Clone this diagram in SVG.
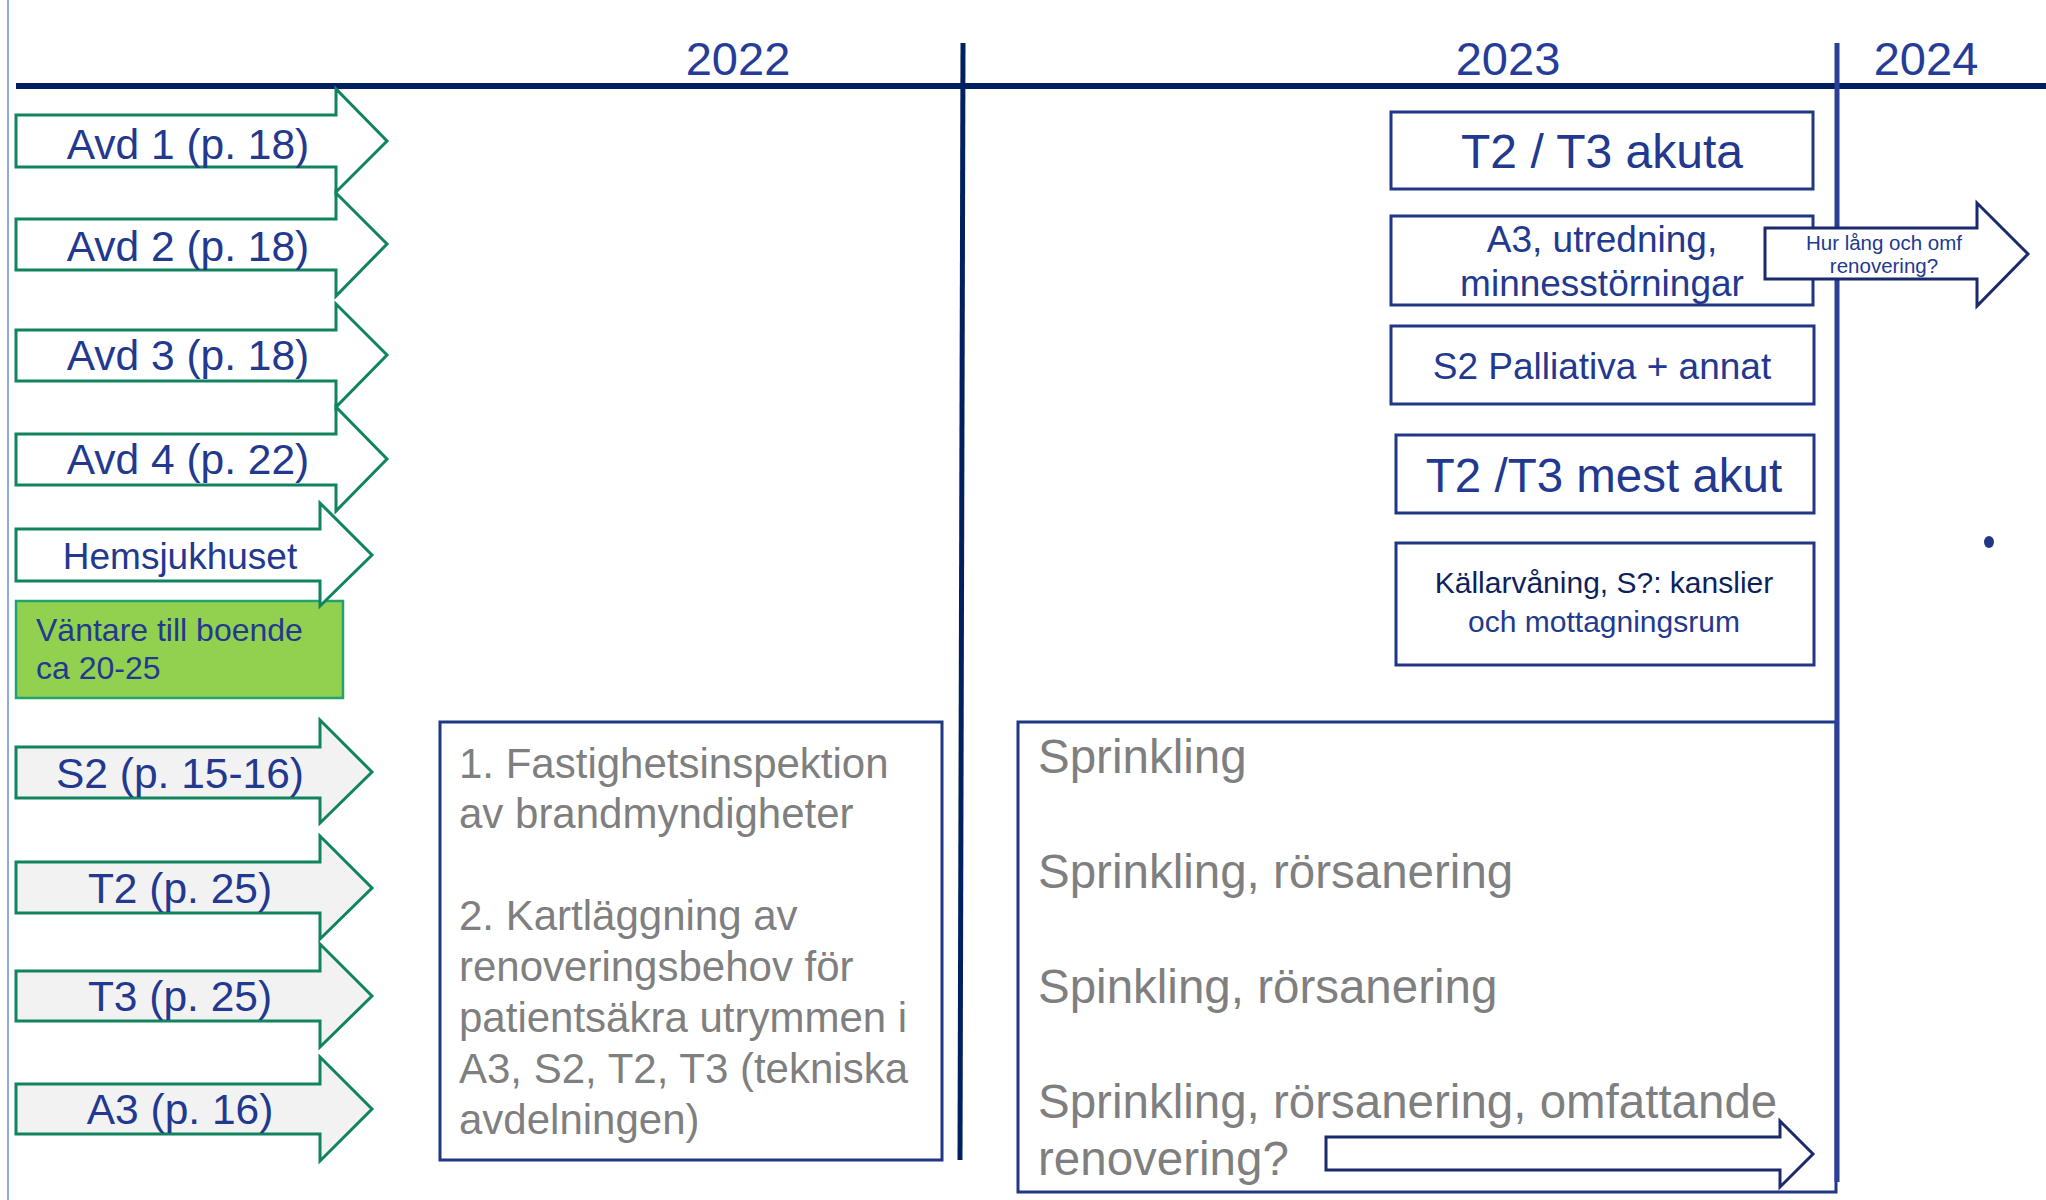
<svg xmlns="http://www.w3.org/2000/svg" width="2046" height="1200" viewBox="0 0 2046 1200">
<style>
text{font-family:"Liberation Sans",Arial,sans-serif}
.year{font-size:47px;fill:#253D98;text-anchor:middle}
.arr{fill:#FFFFFF;stroke:#10845F;stroke-width:3}
.arrg{fill:#F2F2F2;stroke:#10845F;stroke-width:3}
.lbl{font-size:42.5px;fill:#22398F;text-anchor:middle}
.box{fill:#FFFFFF;stroke:#1F3784;stroke-width:3}
.btxt{fill:#22398F;text-anchor:middle}
.gray{font-size:47.5px;fill:#7F7F7F}
.gray2{font-size:42px;fill:#7F7F7F}
.navyarr{fill:#FFFFFF;stroke:#1A2A6C;stroke-width:3}
</style>
<rect x="0" y="0" width="2046" height="1200" fill="#FFFFFF"/>
<g id="axes">
<line x1="8" y1="0" x2="8" y2="1200" stroke="#8EA9DB" stroke-width="2"/>
<line x1="16" y1="86" x2="2046" y2="86" stroke="#002060" stroke-width="6"/>
<line x1="963" y1="43" x2="960" y2="1160" stroke="#002060" stroke-width="5"/>
<text class="year" x="738" y="75">2022</text>
<text class="year" x="1508" y="75">2023</text>
<text class="year" x="1926" y="75">2024</text>
</g>
<g id="avd1"><polygon class="arr" points="16,115 336,115 336,89 387,141 336,192 336,167 16,167"/><text class="lbl" x="188" y="159">Avd 1 (p. 18)</text></g>
<g id="avd2"><polygon class="arr" points="16,219 336,219 336,193 387,244 336,296 336,270 16,270"/><text class="lbl" x="188" y="261">Avd 2 (p. 18)</text></g>
<g id="avd3"><polygon class="arr" points="16,330 336,330 336,304 387,355 336,407 336,381 16,381"/><text class="lbl" x="188" y="370">Avd 3 (p. 18)</text></g>
<g id="avd4"><polygon class="arr" points="16,434 336,434 336,407 387,459 336,511 336,485 16,485"/><text class="lbl" x="188" y="474">Avd 4 (p. 22)</text></g>
<g id="vantare"><rect x="16" y="601" width="327" height="97" fill="#92D050" stroke="#22A36D" stroke-width="2.5"/><text x="36" y="641" font-size="32" fill="#22398F">Väntare till boende</text><text x="36" y="679" font-size="32" fill="#22398F">ca 20-25</text></g>
<g id="hemsjukhuset"><polygon class="arr" points="16,529 320,529 320,503 372,555 320,606 320,581 16,581"/><text x="180" y="569" font-size="37" fill="#22398F" text-anchor="middle">Hemsjukhuset</text></g>
<g id="s2"><polygon class="arrg" points="16,747 320,747 320,720 372,772 320,823 320,798 16,798"/><text class="lbl" x="180" y="788">S2 (p. 15-16)</text></g>
<g id="t2"><polygon class="arrg" points="16,862 320,862 320,836 372,888 320,939 320,913 16,913"/><text class="lbl" x="180" y="903">T2 (p. 25)</text></g>
<g id="t3"><polygon class="arrg" points="16,971 320,971 320,944 372,996 320,1047 320,1021 16,1021"/><text class="lbl" x="180" y="1011">T3 (p. 25)</text></g>
<g id="a3"><polygon class="arrg" points="16,1084 320,1084 320,1057 372,1109 320,1161 320,1134 16,1134"/><text class="lbl" x="180" y="1124">A3 (p. 16)</text></g>
<g id="inspektion"><rect class="box" x="440" y="722" width="502" height="438"/>
<text class="gray2" x="459" y="778">1. Fastighetsinspektion</text>
<text class="gray2" x="459" y="828">av brandmyndigheter</text>
<text class="gray2" x="459" y="930">2. Kartläggning av</text>
<text class="gray2" x="459" y="981">renoveringsbehov för</text>
<text class="gray2" x="459" y="1032">patientsäkra utrymmen i</text>
<text class="gray2" x="459" y="1083">A3, S2, T2, T3 (tekniska</text>
<text class="gray2" x="459" y="1134">avdelningen)</text>
</g>
<g id="sprinkling"><rect class="box" x="1018" y="722" width="818" height="470" stroke-width="2.5"/>
<text class="gray" x="1038" y="773">Sprinkling</text>
<text class="gray" x="1038" y="888">Sprinkling, rörsanering</text>
<text class="gray" x="1038" y="1003">Spinkling, rörsanering</text>
<text class="gray" x="1038" y="1118">Sprinkling, rörsanering, omfattande</text>
<text class="gray" x="1038" y="1175">renovering?</text>
<polygon class="navyarr" points="1326,1137 1780,1137 1780,1121 1813,1154 1780,1187 1780,1170 1326,1170"/>
</g>
<line x1="1837" y1="43" x2="1837" y2="1182" stroke="#2A3F95" stroke-width="5"/>
<g id="t2t3akuta"><rect class="box" x="1391" y="112" width="422" height="77"/><text class="btxt" x="1602" y="168" font-size="48">T2 / T3 akuta</text></g>
<g id="a3utredning"><rect class="box" x="1391" y="216" width="422" height="89"/><text class="btxt" x="1602" y="252" font-size="37">A3, utredning,</text><text class="btxt" x="1602" y="296" font-size="37">minnesstörningar</text></g>
<g id="s2palliativa"><rect class="box" x="1391" y="326" width="423" height="78"/><text class="btxt" x="1602" y="379" font-size="37">S2 Palliativa + annat</text></g>
<g id="t2t3mestakut"><rect class="box" x="1396" y="435" width="418" height="78"/><text class="btxt" x="1604" y="492" font-size="47.5">T2 /T3 mest akut</text></g>
<g id="kallarvaning"><rect class="box" x="1396" y="543" width="418" height="122"/><text x="1604" y="593" font-size="30" fill="#0F1F5C" text-anchor="middle">Källarvåning, S?: kanslier</text><text class="btxt" x="1604" y="632" font-size="30">och mottagningsrum</text></g>
<g id="hurlang"><polygon class="navyarr" points="1765,228 1977,228 1977,203 2028,254 1977,306 1977,279 1765,279"/><text class="btxt" x="1884" y="250" font-size="20.5">Hur lång och omf</text><text class="btxt" x="1884" y="273" font-size="20.5">renovering?</text></g>
<g id="dot"><ellipse cx="1989" cy="542" rx="5" ry="6" fill="#1F3784"/></g>
<g id="connectors"></g>
</svg>
